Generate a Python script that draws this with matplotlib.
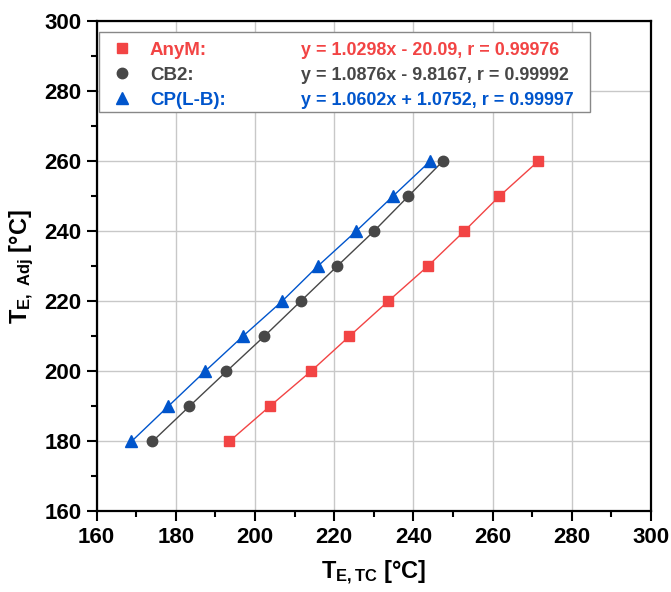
import numpy as np
import matplotlib
matplotlib.use('Agg')
import matplotlib.pyplot as plt
from matplotlib.patches import Rectangle

plt.rcParams['font.family'] = ['Liberation Sans', 'DejaVu Sans']
plt.rcParams['font.weight'] = 'bold'
plt.rcParams['mathtext.fontset'] = 'custom'
plt.rcParams['mathtext.rm'] = 'Liberation Sans:bold'
plt.rcParams['mathtext.bf'] = 'Liberation Sans:bold'
plt.rcParams['mathtext.it'] = 'Liberation Sans:bold'

# --- Datos ---
t_adj = [180, 190, 200, 210, 220, 230, 240, 250, 260]
t_anym = [193.5, 203.7, 214.1, 223.8, 233.6, 243.6, 252.8, 261.7, 271.5]
t_cb2 = [174.1, 183.4, 192.8, 202.3, 211.5, 220.7, 230.0, 238.7, 247.4]
t_cplb = [168.8, 178.05, 187.35, 196.9, 206.8, 215.8, 225.5, 234.8, 244.2]

names = ['AnyM:', 'CB2:', 'CP(L-B):']
equations = ['y = 1.0298x - 20.09, r = 0.99976',
             'y = 1.0876x - 9.8167, r = 0.99992',
             'y = 1.0602x + 1.0752, r = 0.99997']
colors = ['#F24444', '#474747', '#0055CC']
markers = ['s', 'o', '^']

fig = plt.figure(figsize=(6.71, 5.92), dpi=100)
ax = fig.add_axes([0.144, 0.136, 0.826, 0.828])

series = [t_anym, t_cb2, t_cplb]
handles = []
for xs, name, c, m in zip(series, names, colors, markers):
    ax.plot(xs, t_adj, '-', color=c, linewidth=1.0, zorder=3)
    h, = ax.plot(xs, t_adj, m, color=c, markersize=7.5 if m != '^' else 8.5,
                 linestyle='none', label=name, zorder=4)
    handles.append(h)

ax.set_xlim(160, 300)
ax.set_ylim(160, 300)
ax.set_xticks(np.arange(160, 301, 20))
ax.set_yticks(np.arange(160, 301, 20))
ax.set_xticks(np.arange(170, 300, 20), minor=True)
ax.set_yticks(np.arange(170, 300, 20), minor=True)
ax.tick_params(which='major', direction='out', length=7, width=1.5, labelsize=16, pad=4)
ax.tick_params(which='minor', direction='out', length=4, width=1.5)
for lbl in ax.get_xticklabels() + ax.get_yticklabels():
    lbl.set_fontweight('bold')
for s in ax.spines.values():
    s.set_linewidth(1.6)
ax.grid(True, which='major', color='#C8C8C8', linewidth=1.0)
ax.set_axisbelow(True)

ax.set_xlabel(r'T$_{\mathrm{E,TC}}$ [°C]', fontsize=17, fontweight='bold', labelpad=8)
ax.set_ylabel(r'T$_{\mathrm{E,\ Adj}}$ [°C]', fontsize=17, fontweight='bold', labelpad=6)

# recuadro de la leyenda (incluye las ecuaciones)
ax.add_patch(Rectangle((0.004, 0.814), 0.886, 0.165, transform=ax.transAxes,
                       facecolor='white', edgecolor='#888888', linewidth=1.0, zorder=5))

leg = ax.legend(handles=handles, loc='upper left', bbox_to_anchor=(0.004, 0.972),
                fontsize=13.5, frameon=False,
                borderpad=0.35, labelspacing=0.42, handletextpad=0.57, handlelength=1.8,
                borderaxespad=0.0)
leg.set_zorder(6)
for txt, c in zip(leg.get_texts(), colors):
    txt.set_color(c)
    txt.set_fontweight('bold')

# ecuaciones alineadas con cada fila de la leyenda
fig.canvas.draw()
renderer = fig.canvas.get_renderer()
inv = ax.transAxes.inverted()
for txt, eq, c in zip(leg.get_texts(), equations, colors):
    bb = txt.get_window_extent(renderer)
    ymid = inv.transform((0, (bb.y0 + bb.y1) / 2))[1]
    ax.text(0.369, ymid, eq, transform=ax.transAxes, color=c, fontsize=12.9,
            fontweight='bold', va='center', ha='left', zorder=7)

fig.savefig('out.png', dpi=100)
